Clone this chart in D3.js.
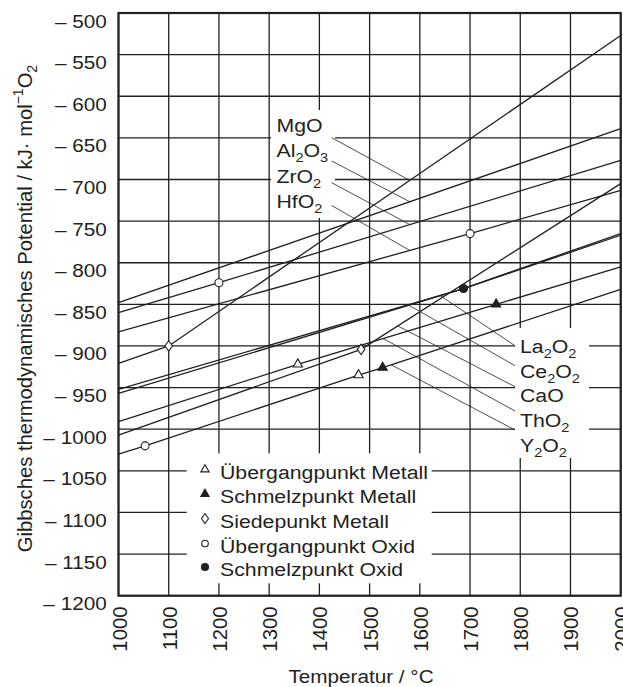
<!DOCTYPE html>
<html lang="de">
<head>
<meta charset="UTF-8">
<title>Gibbs-Energie Oxide</title>
<script src="https://cdn.jsdelivr.net/npm/d3@7"></script>
<style>
  body { margin: 0; background: #fff; }
  svg text { font-family: "Liberation Sans", Arial, sans-serif; fill: #231f20; }
  .grid { stroke: #231f20; stroke-width: 1.3px; }
  .oxide { fill: none; stroke: #231f20; stroke-width: 1.3px; }
  .leader { stroke: #231f20; stroke-width: 0.8px; }
  .mark { stroke: #231f20; stroke-width: 1.1px; }
</style>
</head>
<body>
<div class="chart"></div>
<script>
  // ticks
  const tempTicks = d3.range(1000, 2001, 100);
  const gibbsTicks = d3.range(-500, -1201, -50);

  // oxide lines, [T °C, G kJ/mol O2]
  const mgo   = [[1000, -921], [1100, -900], [2000, -527]];
  const al2o3 = [[1000, -848], [2000, -639]];
  const zro2  = [[1000, -860], [1200, -824], [2000, -677]];
  const hfo2  = [[1000, -883], [1700, -765], [2000, -713]];
  const la2o3 = [[1000, -952], [1687, -831], [2000, -765]];
  const ce2o3 = [[1000, -957], [1687, -831], [2000, -767]];
  const cao   = [[1000, -1007], [1483, -904], [2000, -705]];
  const tho2  = [[1000, -991], [1357, -922], [1752, -850], [2000, -805]];
  const y2o3  = [[1000, -1030], [1053, -1020], [1478, -935], [1526, -926], [2000, -832]];

  // points
  const metalTransition = [[1357, -922], [1478, -935]];
  const metalMelting    = [[1526, -926], [1752, -850]];
  const metalBoiling    = [[1100, -900], [1483, -904]];
  const oxideTransition = [[1053, -1020], [1200, -824], [1700, -765]];
  const oxideMelting    = [[1687, -831]];

  const upperNames = ['MgO', 'Al_2O_3', 'ZrO_2', 'HfO_2'];
  const lowerNames = ['La_2O_2', 'Ce_2O_2', 'CaO', 'ThO_2', 'Y_2O_2'];
  const legendNames = ['Übergangpunkt Metall', 'Schmelzpunkt Metall', 'Siedepunkt Metall',
                       'Übergangpunkt Oxid', 'Schmelzpunkt Oxid'];

  const W = 623, H = 687;
  const x = d3.scaleLinear().domain([1000, 2000]).range([118.5, 620.7]);
  const y = d3.scaleLinear().domain([-500, -1200]).range([13, 595.7]);

  const svg = d3.select('.chart').append('svg').attr('width', W).attr('height', H);

  // grid
  svg.append('g').selectAll('line').data(tempTicks).enter().append('line').attr('class', 'grid')
    .attr('x1', d => x(d)).attr('x2', d => x(d)).attr('y1', y(-500)).attr('y2', y(-1200));
  svg.append('g').selectAll('line').data(gibbsTicks).enter().append('line').attr('class', 'grid')
    .attr('x1', x(1000)).attr('x2', x(2000)).attr('y1', d => y(d)).attr('y2', d => y(d));

  // white boxes behind labels
  const boxes = [[271, 110, 64, 108], [515, 328, 74, 130], [186.7, 453.3, 245, 130]];
  svg.append('g').selectAll('rect').data(boxes).enter().append('rect')
    .attr('x', d => d[0]).attr('y', d => d[1]).attr('width', d => d[2]).attr('height', d => d[3])
    .attr('fill', '#fff');

  const line = d3.line().x(d => x(d[0])).y(d => y(d[1]));
  const series = [mgo, al2o3, zro2, hfo2, la2o3, ce2o3, cao, tho2, y2o3];
  svg.append('g').selectAll('path').data(series).enter().append('path')
    .attr('class', 'oxide').attr('d', line);

  // leaders: label end y, temperature where they touch the line
  const at = (s, t) => d3.scaleLinear().domain(s.map(p => p[0])).range(s.map(p => p[1]))(t);
  const upperLead = [[mgo, 137.7, 1580], [al2o3, 161, 1580], [zro2, 182.7, 1580], [hfo2, 205.5, 1580]];
  const lowerLead = [[la2o3, 345.7, 1640], [ce2o3, 365.7, 1578], [cao, 386.7, 1556], [tho2, 411, 1527], [y2o3, 430, 1543]];
  upperLead.forEach(([s, y0, t]) => svg.append('line').attr('class', 'leader')
    .attr('x1', 331.7).attr('y1', y0).attr('x2', x(t)).attr('y2', y(at(s, t))));
  lowerLead.forEach(([s, y0, t]) => svg.append('line').attr('class', 'leader')
    .attr('x1', 515).attr('y1', y0).attr('x2', x(t)).attr('y2', y(at(s, t))));

  // markers
  const tri = d3.symbol().type(d3.symbolTriangle).size(38);
  const dia = 'M0,-5.2L3.8,0L0,5.2L-3.8,0Z';
  function marks(data, shape, fill) {
    svg.append('g').selectAll('path').data(data).enter().append('path').attr('class', 'mark')
      .attr('transform', d => `translate(${x(d[0])},${y(d[1])})`)
      .attr('d', shape).attr('fill', fill);
  }
  marks(metalTransition, tri(), '#fff');
  marks(metalMelting, tri(), '#231f20');
  marks(metalBoiling, dia, '#fff');
  svg.append('g').selectAll('circle').data(oxideTransition).enter().append('circle').attr('class', 'mark')
    .attr('cx', d => x(d[0])).attr('cy', d => y(d[1])).attr('r', 4).attr('fill', '#fff');
  svg.append('g').selectAll('circle').data(oxideMelting).enter().append('circle').attr('class', 'mark')
    .attr('cx', d => x(d[0])).attr('cy', d => y(d[1])).attr('r', 4).attr('fill', '#231f20');

  // frame
  svg.append('rect').attr('x', x(1000)).attr('y', y(-500))
    .attr('width', x(2000) - x(1000)).attr('height', y(-1200) - y(-500))
    .attr('fill', 'none').attr('stroke', '#231f20').attr('stroke-width', 2.2);

  // text helper; the original type is a bit wide, so stretch it horizontally
  function txt(px, py, size, anchor, rot) {
    const sx = rot ? 1.03 : 1.12;
    return svg.append('text')
      .attr('transform', `translate(${px},${py}) scale(${sx},1)` + (rot ? ' rotate(-90)' : ''))
      .attr('font-size', size).attr('text-anchor', anchor);
  }
  function chem(t, s) {
    s.split(/_(\d)/).forEach((part, i) => {
      if (!part) return;
      if (i % 2) t.append('tspan').attr('font-size', 13).attr('dy', 5).text(part);
      else t.append('tspan').attr('dy', i ? -5 : 0).text(part);
    });
  }

  gibbsTicks.forEach(d => txt(106.7, y(d) + 14.5, 18.5, 'end').text('– ' + Math.abs(d)));
  tempTicks.forEach(d => txt(x(d) + 8, 606.5, 20.3, 'end', true).text(d));

  upperNames.forEach((n, i) => chem(txt(276.5, 131.7 + i * 25.5, 19, 'start'), n));
  lowerNames.forEach((n, i) => chem(txt(520, 352.7 + i * 24.8, 19, 'start'), n));

  // legend
  const legY = [469.5, 494, 518.5, 543.5, 567];
  legendNames.forEach((n, i) => txt(220, legY[i] + 9, 19, 'start').text(n));
  const lg = svg.append('g');
  const legTri = d3.symbol().type(d3.symbolTriangle).size(30)();
  lg.append('path').attr('class', 'mark').attr('d', legTri).attr('fill', '#fff').attr('transform', `translate(205,${legY[0]})`);
  lg.append('path').attr('class', 'mark').attr('d', legTri).attr('fill', '#231f20').attr('transform', `translate(205,${legY[1]})`);
  lg.append('path').attr('class', 'mark').attr('d', 'M0,-5L3.5,0L0,5L-3.5,0Z').attr('fill', '#fff').attr('transform', `translate(205,${legY[2]})`);
  lg.append('circle').attr('class', 'mark').attr('cx', 205).attr('cy', legY[3]).attr('r', 3.3).attr('fill', '#fff');
  lg.append('circle').attr('class', 'mark').attr('cx', 205).attr('cy', legY[4]).attr('r', 3.5).attr('fill', '#231f20');

  // axis titles
  txt(361, 683, 18.5, 'middle').text('Temperatur / °C');
  const yt = txt(31.7, 308.5, 20.2, 'middle', true);
  yt.append('tspan').text('Gibbsches thermodynamisches Potential / kJ· mol');
  yt.append('tspan').attr('font-size', 14).attr('dy', -8).text('−1');
  yt.append('tspan').attr('dy', 8).text('O');
  yt.append('tspan').attr('font-size', 14).attr('dy', 5).text('2');
</script>
</body>
</html>
